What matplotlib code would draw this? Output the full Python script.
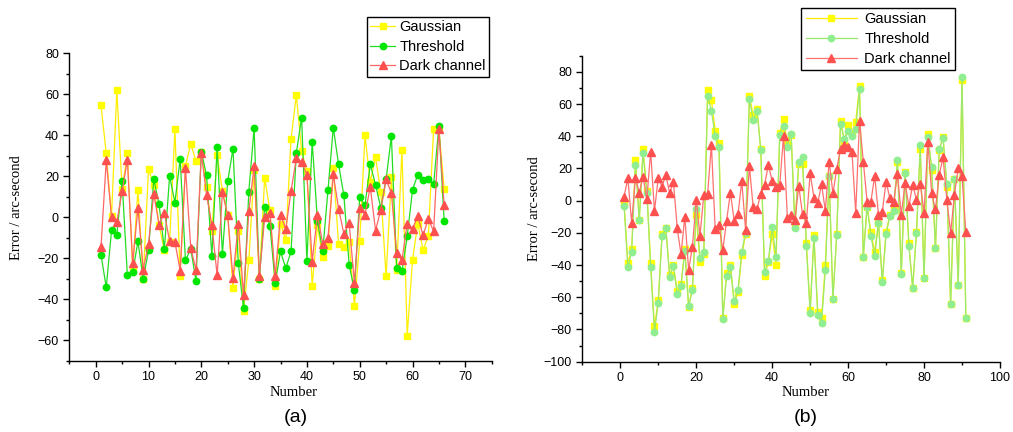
import numpy as np
import matplotlib
matplotlib.use('Agg')
import matplotlib.pyplot as plt
from matplotlib.ticker import MultipleLocator

plt.rcParams['font.family'] = ['Liberation Sans', 'DejaVu Sans']

# panel (a), samples 1..66
gauss_a = [54.7, 31.2, 0.5, 62, 14, 31.2, -25, 13.6, -30, 23.7,
           15.6, -3.9, -16, -12, 43, -28.6, 25, 35.9, 27.3, 32,
           15, -6.7, 30.3, 13.1, 1, -34.3, -6.8, -45.4, -21, 23,
           -30, 19.3, 3.4, -33.2, -3, -11.2, 38.4, 59.6, 32.4, 22.5,
           -33.2, -3.9, -19.4, -13.7, 24, -12.9, -14.5, -12, -43, -11.7,
           40, 17.2, 29.4, 12.3, -28.8, 19.7, -25.4, 33, -57.6, -20.7,
           -3, -15.8, -9.1, 43.3, 43, 14]
thresh_a = [-18.2, -34.1, -6.2, -8.8, 17.6, -28.3, -26.8, -11.7, -30.1, -16.1,
            18.7, 6.3, -15.6, 20.2, 7.2, 28.6, -21, -15.3, -31, 32,
            20.5, -19, 34.3, -17.7, 17.6, 33.5, -22.3, -44.1, 12.6, 43.6,
            -30, 5.3, -4.2, -31.9, -16.6, -24.7, -16.6, 31.4, 48.7, -21.3,
            37, -1.9, -16.4, 13.5, 43.8, 25.8, 10.8, -23, -35.6, 10,
            5.9, 25.8, 16, 4.6, 18.6, 39.6, -24.6, -26.2, -9.3, 13.5,
            20.8, 18.4, 18.8, 16.1, 44.6, -1.8]
dark_a = [-14.5, 27.8, 0, -2.3, 12.7, 28.1, -22.3, 4.7, -25.4, -12.9,
          11.5, -3.6, 2.3, -11.7, -12, -25.9, 24.2, -14.8, -25.6, 31.4,
          11, -3.6, -28.3, 12.2, 1, -29.5, -3, -37.7, 3, 24.9,
          -28.8, 0, 2.1, -28.6, 1.4, -5.7, 12.9, 28.9, 27, 20.8,
          -21.5, 1.3, -12.9, -10, 21, 4.3, -8, -2.6, -32, 4.6,
          1.3, 14.8, -6.4, 3.8, 18.6, 11.8, -17.5, -20.9, -3, -5.5,
          0.7, -8.8, -0.6, -6.8, 42.9, 5.9]

# panel (b), samples 1..91
gauss_b = [-1, -39, -30, 25, -12, 32, 6, -39, -78, -62,
           -21, -17, -46, -40, -56, -52, -30, -66, -54, -9,
           -38, -33, 68.8, 62.6, 43.4, 35.7, -73, -45, -40, -64,
           -57, -34, -21, 65, 53, 57, 32, -47, -38, -21,
           -40, 42, 51, 35, 41, -16, 23, 23, -26, -68,
           -21.4, -69, -73, -40, 15, -61, -21, 49.6, 37, 47,
           42, 49, 71, -35, -3.7, -19.6, -31.8, -13.6, -49.4, -19.6,
           -9, -5.4, 24.2, -44.7, 18, -26.6, -54, -19.6, 32.3, -48.3,
           41.3, 19.1, -29.6, 31.5, 39.5, 8.7, -64.3, 13.3, -52.4, 74.7,
           -72.8]
thresh_b = [-3.3, -41.4, -32, 22.2, -12, 29.5, 5, -41, -81.5, -63.4,
            -21.7, -17.2, -47.2, -40.6, -58.2, -52.7, -31, -65.5, -55.6, -5,
            -35.9, -31.7, 65.1, 55.8, 39.9, 33.2, -73.4, -46.6, -41, -62.5,
            -55.6, -31.7, -19.9, 63.1, 49.8, 55.8, 31.6, -44.2, -37.5, -16.2,
            -34.8, 40.9, 46.5, 33.2, 41.5, -17.2, 24.3, 27, -28.2, -69.5,
            -23, -70.7, -75.9, -43.1, 15, -61, -21.4, 47.5, 38.2, 43,
            40, 44.6, 69.5, -35, -3.7, -21.8, -34.4, -13.6, -50.4, -21,
            -9.3, -6.4, 25.3, -45.6, 17.4, -28, -54.1, -20.3, 34.3, -48.3,
            39.4, 21, -29.6, 32.2, 38.9, 10.2, -64.3, 13.3, -52.4, 76.8,
            -72.8]
dark_b = [2.5, 13.9, -13.7, 14.3, 5, 14.9, 1, 30.5, -6.4, 13.9,
          8.7, 16, 4.6, 11.8, -17.2, -33.4, -9.9, -43, -28.6, 0.6,
          -21.7, 3.7, 4.2, 34.6, -17.8, -15.1, -30.6, -12.4, 5, -12.4,
          -8.5, 12.2, -18.2, 21.6, -4.1, -5.2, 4.2, 9.8, 22.2, 12.2,
          8.7, 9.8, 40.3, -10.6, -8.9, -12, 9.1, -8.5, -13.7, 17,
          1.9, -1.6, 10.2, -6.2, 24.3, 4.6, 19.5, 32.2, 34.6, 33.2,
          30.5, -7.4, 49.6, 24.3, -0.6, -0.6, 15.4, -8.9, -6.8, 11.8,
          1.4, -0.6, 16.6, -8.9, 10.8, -3.3, 9.8, 0.6, 10.2, -7.4,
          36.7, 4.6, -5.4, 16, 26.8, 0.6, -19.9, 3.7, 20.3, 15.1,
          -19.3]

labels = ['Gaussian', 'Threshold', 'Dark channel']

W, H = 1013, 432
fig = plt.figure(figsize=(W / 100, H / 100), dpi=100)


def px_axes(x0, y0, x1, y1):
    return fig.add_axes([x0 / W, 1 - y1 / H, (x1 - x0) / W, (y1 - y0) / H])


def style(ax):
    for s in ['top', 'right']:
        ax.spines[s].set_visible(False)
    for s in ['left', 'bottom']:
        ax.spines[s].set_linewidth(1.0)
    ax.tick_params(which='major', direction='out', length=4, width=1, labelsize=9)
    ax.tick_params(which='minor', direction='out', length=2.5, width=1)
    ax.set_ylabel('Error / arc-second', family='Liberation Serif', fontsize=10.5)
    ax.set_xlabel('Number', family='Liberation Serif', fontsize=10.5, labelpad=0)


# ---- panel (a)
ax1 = px_axes(69.3, 53.3, 491.7, 361)
xa = np.arange(1, len(gauss_a) + 1)
ax1.plot(xa, gauss_a, color='#ffee00', lw=0.9, marker='s', ms=4.2,
         mfc='#ffff00', mec='#ffff00', label=labels[0])
ax1.plot(xa, thresh_a, color='#22dd22', lw=0.9, marker='o', ms=4.6,
         mfc='#00e600', mec='#00e600', label=labels[1])
ax1.plot(xa, dark_a, color='#ff6666', lw=0.9, marker='^', ms=5.2,
         mfc='#ff5050', mec='#ff5050', label=labels[2])
ax1.set_xlim(-5, 75)
ax1.set_ylim(-70, 80)
ax1.xaxis.set_major_locator(MultipleLocator(10))
ax1.xaxis.set_minor_locator(MultipleLocator(5))
ax1.yaxis.set_major_locator(MultipleLocator(20))
ax1.yaxis.set_minor_locator(MultipleLocator(10))
style(ax1)
ax1.xaxis.set_label_coords((294 - 69.3) / (491.7 - 69.3), -(391.7 - 361) / (361 - 53.3) + 0.02)
ax1.yaxis.set_label_coords(-(69.3 - 23) / (491.7 - 69.3), 0.5)
leg1 = ax1.legend(loc='upper right', bbox_to_anchor=(489 / W, 1 - 17 / H),
                  bbox_transform=fig.transFigure, fontsize=10.5, frameon=True,
                  fancybox=False, edgecolor='black', framealpha=1,
                  handlelength=1.7, handletextpad=0.3, borderpad=0.22,
                  labelspacing=0.38, borderaxespad=0)
leg1.get_frame().set_linewidth(1.0)

# ---- panel (b)
ax2 = px_axes(582.3, 55.7, 1000, 361.7)
xb = np.arange(1, len(gauss_b) + 1)
ax2.plot(xb, gauss_b, color='#ffee00', lw=0.9, marker='s', ms=4.2,
         mfc='#ffff00', mec='#ffff00', label=labels[0])
ax2.plot(xb, thresh_b, color='#9be86a', lw=0.9, marker='o', ms=4.6,
         mfc='#90ee90', mec='#90ee90', label=labels[1])
ax2.plot(xb, dark_b, color='#ff7070', lw=0.9, marker='^', ms=5.2,
         mfc='#ff5050', mec='#ff5050', label=labels[2])
ax2.set_xlim(-10, 100)
ax2.set_ylim(-100, 90)
ax2.xaxis.set_major_locator(MultipleLocator(20))
ax2.xaxis.set_minor_locator(MultipleLocator(10))
ax2.yaxis.set_major_locator(MultipleLocator(20))
ax2.yaxis.set_minor_locator(MultipleLocator(10))
style(ax2)
ax2.xaxis.set_label_coords((806 - 582.3) / (1000 - 582.3), -(391.7 - 361.7) / (361.7 - 55.7) + 0.02)
ax2.yaxis.set_label_coords(-(582.3 - 541) / (1000 - 582.3), 0.5)
leg2 = ax2.legend(loc='upper right', bbox_to_anchor=(955 / W, 1 - 8 / H),
                  bbox_transform=fig.transFigure, fontsize=10.5, frameon=True,
                  fancybox=False, edgecolor='black', framealpha=1,
                  handlelength=3.5, handletextpad=0.5, borderpad=0.3,
                  labelspacing=0.4, borderaxespad=0)
leg2.get_frame().set_linewidth(1.0)

fig.text(296 / W, 1 - 417 / H, '(a)', ha='center', va='center', fontsize=14)
fig.text(806 / W, 1 - 417 / H, '(b)', ha='center', va='center', fontsize=14)

fig.savefig('out.png', dpi=100)
